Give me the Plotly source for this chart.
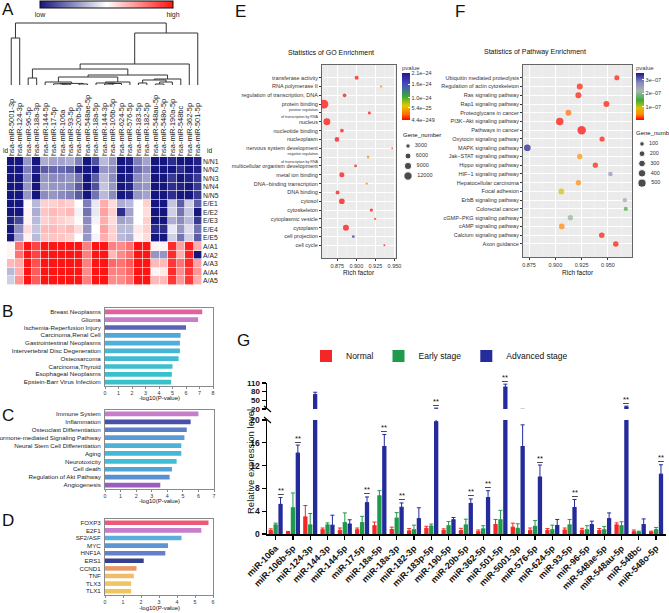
import plotly.graph_objects as go

W, H = 669, 613
def X(p): return p / W
def Y(p): return 1 - p / H

FONT = "Liberation Sans, Arial, sans-serif"

# ---------------- Panel A : heatmap ----------------
hm_cols = ["hsa-miR-5001-3p", "hsa-miR-124-3p", "hsa-miR-96-5p", "hsa-miR-18a-3p", "hsa-miR-144-5p",
           "hsa-miR-17-5p", "hsa-miR-106a", "hsa-miR-93-5p", "hsa-miR-20b-5p", "hsa-miR-548ae-5p",
           "hsa-miR-18a-5p", "hsa-miR-144-3p", "hsa-miR-106b-5p", "hsa-miR-624-5p", "hsa-miR-576-5p",
           "hsa-miR-183-5p", "hsa-miR-182-5p", "hsa-miR-548au-5p", "hsa-miR-548o-5p", "hsa-miR-190a-5p",
           "hsa-miR-548bc", "hsa-miR-362-5p", "hsa-miR-501-5p"]
hm_rows = ["N/N1", "N/N2", "N/N3", "N/N4", "N/N5", "E/E1", "E/E2", "E/E3", "E/E4", "E/E5",
           "A/A1", "A/A2", "A/A3", "A/A4", "A/A5"]
hm_vals = [
    [-1, -1, -0.45, -1, -0.35, -0.4, -0.4, -0.35, -0.55, -1, -0.75, -0.3, -0.45, -1, -0.95, -0.55, -0.4, -1, -1, -0.9, -1, -1, -0.95],
    [-1, -1, -0.55, -0.95, -0.7, -0.65, -0.65, -0.7, -0.95, -1, -1, -0.45, -0.5, -1, -1, -0.65, -0.5, -1, -1, -1, -0.9, -1, -0.95],
    [-1, -1, -0.5, -1, -0.45, -0.5, -0.5, -0.45, -0.6, -1, -0.7, -0.3, -0.5, -1, -0.95, -0.5, -0.4, -1, -1, -0.85, -1, -0.95, -0.85],
    [-1, -1, -0.45, -1, -0.4, -0.45, -0.45, -0.5, -0.7, -1, -0.75, -0.25, -0.45, -1, -0.95, -0.5, -0.45, -1, -1, -0.9, -0.95, -1, -0.85],
    [-1, -1, -0.45, -1, -0.5, -0.45, -0.5, -0.55, -0.7, -1, -0.6, -0.3, -0.5, -1, -0.95, -0.45, -0.4, -1, -1, -0.9, -1, -1, -0.85],
    [-1, -1, 0.02, -0.3, 0.2, 0.2, 0.25, 0.2, 0.0, -0.55, -0.1, 0.35, 0.15, -0.35, -0.3, 0.0, 0.2, -1, -1, -0.25, -0.7, -0.2, -0.7],
    [-1, -1, 0.05, -0.35, 0.25, 0.3, 0.25, 0.3, -0.05, -0.6, -0.1, 0.4, 0.2, -0.9, -0.4, 0.0, 0.15, -1, -1, -0.2, -0.6, -0.25, -1],
    [-0.95, -0.8, 0.05, -0.3, 0.2, 0.25, 0.2, 0.15, 0.02, -0.5, -0.05, 0.35, 0.15, -0.4, -0.35, 0.0, 0.2, -1, -1, -0.35, -0.5, -0.3, -0.85],
    [-1, -0.5, 0.15, -0.25, 0.3, 0.3, 0.25, 0.3, 0.15, -0.45, 0.0, 0.4, 0.2, -0.3, -0.3, 0.1, 0.2, -0.9, -0.9, -0.1, -0.45, -0.15, -0.6],
    [-1, -0.4, 0.05, -0.3, 0.25, 0.25, 0.25, 0.2, 0.0, -0.45, -0.05, 0.35, 0.2, -0.3, -0.35, 0.05, 0.15, -1, -1, -0.2, -0.6, -0.2, -0.7],
    [0.05, 0.6, 1, 0.8, 1, 1, 1, 1, 1, 0.55, 1, 1, 0.55, 0.5, 0.6, 1, 1, 0.05, 0.05, 0.9, 0.4, 0.95, 0.35],
    [0.05, 0.6, 1, 0.8, 1, 1, 1, 1, 1, 0.55, 1, 1, 0.3, 0.5, 0.6, 1, 1, -0.45, -0.45, 0.9, 0.35, 0.95, -1],
    [0.3, 0.35, 1, 0.75, 1, 1, 1, 1, 1, 0.55, 1, 1, 0.65, 0.6, 0.7, 1, 1, 0.3, 0.3, 0.85, 0.6, 0.9, 0.4],
    [-0.3, 0.35, 1, 0.7, 1, 1, 1, 1, 1, 0.5, 1, 1, 0.55, 0.55, 0.65, 1, 1, 0.05, 0.1, 0.9, 0.5, 0.85, 0.45],
    [-0.2, 0.45, 1, 0.7, 1, 1, 1, 1, 1, 0.55, 1, 1, 0.5, 0.5, 0.6, 1, 1, 0.3, 0.3, 0.85, 0.45, 0.85, 0.35],
]
# dendrogram merges (left child, right child, height); ids >= n_leaf are earlier merges
dendro_merges = [
    (6, 7, 0.8), (5, 23, 1.2), (8, 9, 1.0), (24, 25, 1.6), (4, 26, 3.0),
    (11, 12, 1.0), (28, 13, 1.5), (10, 29, 2.0), (30, 14, 3.0), (27, 31, 8.0),
    (15, 16, 2.0), (17, 18, 1.0), (34, 19, 3.0), (33, 35, 5.0), (36, 20, 6.0),
    (32, 37, 10.0), (2, 3, 7.0), (39, 38, 16.0), (40, 21, 21.0), (41, 22, 52.0),
    (0, 1, 47.0), (43, 42, 62.0),
]

# ---------------- Panels B, C, D ----------------
b_terms = ["Breast Neoplasms", "Glioma", "Ischemia-Reperfusion Injury", "Carcinoma,Renal Cell",
           "Gastrointestinal Neoplasms", "Intervertebral Disc Degeneration", "Osteosarcoma",
           "Carcinoma,Thyroid", "Esophageal Neoplasms", "Epstein-Barr Virus Infectiom"]
b_vals = [7.2, 6.9, 6.0, 5.6, 5.55, 5.55, 5.45, 5.0, 4.95, 4.9]
b_colors = ["#e0619b", "#c77dc9", "#5b63b8", "#4fa8d8", "#4cb0d8", "#47b5d6", "#42bad3",
            "#3bbfcf", "#38c0ce", "#36c1cc"]

c_terms = ["Immune System", "Inflammation", "Osteoclast Differentiation",
           "Hormone-mediated Signaling Pathway", "Neural Stem Cell Differentiation", "Aging",
           "Neurotoxicity", "Cell death", "Regulation of Akt Pathway", "Angiogenesis"]
c_vals = [6.0, 5.5, 5.25, 5.1, 4.9, 4.9, 4.6, 4.3, 4.15, 3.55]
c_colors = ["#c77dc9", "#4a4fa8", "#5b7fc4", "#5b9bd5", "#4fb0d8", "#45b8d8", "#42bdd6",
            "#4fa6d6", "#5a8fd0", "#9a5cc0"]

d_terms = ["FOXP3", "E2F1", "SF2/ASF", "MYC", "HNF1A", "ERS1", "CCND1", "TNF", "TLX3", "TLX1"]
d_vals = [5.75, 5.35, 4.25, 3.5, 3.35, 2.15, 1.75, 1.6, 1.45, 1.45]
d_colors = ["#ec5a78", "#c77dc9", "#5aaede", "#5b95d3", "#6480c8", "#35418f", "#e79a66",
            "#efbd6a", "#f0c45e", "#f0c45e"]

# ---------------- Panel E : GO enrichment ----------------
go_terms = ["transferase activity", "RNA polymerase II", "regulation of transcription, DNA",
            "protein binding", "positive regulation<br>of transcription by RNA", "nucleus",
            "nucleotide binding", "nucleoplasm", "nervous system development",
            "negative regulation<br>of transcription by RNA", "multicellular organism development",
            "metal ion binding", "DNA\u2212binding transcription", "DNA binding", "cytosol",
            "cytoskeleton", "cytoplasmic vesicle", "cytoplasm", "cell projection", "cell cycle"]
go_rich = [0.9004, 0.9325, 0.8846, 0.8575, 0.9171, 0.8614, 0.8811, 0.8746, 0.947, 0.9154,
           0.899, 0.881, 0.9136, 0.8754, 0.881, 0.9197, 0.9246, 0.8864, 0.896, 0.9368]
go_genes = [2400, 700, 2000, 14000, 1200, 8300, 2000, 3500, 300, 1000,
            1000, 4000, 700, 2400, 5300, 1500, 700, 6000, 1000, 450]
go_pval = [1e-249, 4.2e-25, 5e-60, 4.4e-249, 8e-40, 1e-200, 1e-100, 1e-150, 6e-26, 4.0e-25,
           1e-30, 1e-120, 3.6e-25, 1e-90, 1e-180, 1e-50, 1.2e-25, 1e-190, 1.95e-24, 1e-35]
go_size_breaks = [3000, 6000, 9000, 12000]
go_cb_ticks = [2.1e-24, 1.6e-24, 1.0e-24, 5.4e-25, 4.4e-249]
go_cb_text = ["2.1e\u221224", "1.6e\u221224", "1.0e\u221224", "5.4e\u221225", "4.4e\u2212249"]

# ---------------- Panel F : pathway enrichment ----------------
kegg_terms = ["Ubiquitin mediated proteolysis", "Regulation of actin cytoskeleton",
              "Ras signaling pathway", "Rap1 signaling pathway", "Proteoglycans in cancer",
              "PI3K\u2212Akt signaling pathway", "Pathways in cancer", "Oxytocin signaling pathway",
              "MAPK signaling pathway", "Jak\u2212STAT signaling pathway", "Hippo signaling pathway",
              "HIF\u22121 signaling pathway", "Hepatocellular carcinoma", "Focal adhesion",
              "ErbB signaling pathway", "Colorectal cancer", "cGMP\u2212PKG signaling pathway",
              "cAMP signaling pathway", "Calcium signaling pathway", "Axon guidance"]
kegg_rich = [0.9584, 0.9232, 0.9219, 0.9485, 0.9124, 0.9042, 0.925, 0.9444, 0.8734, 0.9232,
             0.938, 0.9523, 0.9219, 0.9057, 0.966, 0.9669, 0.9143, 0.9061, 0.9441, 0.9574]
kegg_genes = [140, 230, 220, 210, 200, 400, 540, 150, 300, 160,
              150, 100, 160, 200, 85, 80, 160, 190, 180, 180]
kegg_pval = [5e-09, 8e-09, 6e-09, 4e-09, 3.2e-08, 3e-09, 1e-09, 6e-09, 3.5e-07, 4.5e-08,
             7e-09, 2.7e-07, 4.2e-08, 9.5e-08, 2.45e-07, 1.5e-07, 2.0e-07, 4e-08, 5e-09, 5e-09]
kegg_size_breaks = [100, 200, 300, 400, 500]
kegg_cb_ticks = [3e-07, 2e-07, 1e-07]
kegg_cb_text = ["3e\u221207", "2e\u221207", "1e\u221207"]

# ---------------- Panel G : qPCR bars ----------------
g_cats = ["miR-106a", "miR-106b-5p", "miR-124-3p", "miR-144-3p", "miR-144-5p", "miR-17-5p",
          "miR-18a-5p", "miR-18a-3p", "miR-182-3p", "miR-183p-5p", "miR-190-5p", "miR-20b-5p",
          "miR-362-5p", "miR-501-5p", "miR-5001-3p", "miR-576-5p", "miR-624-5p", "miR-93-5p",
          "miR-96-5p", "miR-548ae-5p", "miR-548au-5p", "miR-548bc", "miR-548o-5p"]
g_normal = [0.6, 0.35, 3.0, 0.75, 0.65, 0.75, 1.45, 0.8, 0.55, 1.0, 0.6, 0.6, 0.4, 1.65, 1.2,
            0.65, 0.65, 0.7, 0.65, 0.6, 1.6, 0.4, 0.35]
g_normal_err = [0.3, 0.1, 2.0, 0.3, 0.4, 0.3, 0.65, 0.4, 0.4, 0.35, 0.3, 0.4, 0.3, 0.9, 0.7,
                0.4, 0.3, 0.35, 0.35, 0.35, 0.35, 0.3, 0.15]
g_early = [1.6, 4.6, 1.6, 1.6, 2.0, 2.0, 6.7, 2.8, 0.75, 1.4, 1.45, 1.6, 0.9, 2.5, 1.0,
           1.35, 0.75, 1.6, 0.75, 0.75, 1.45, 0.35, 0.75]
g_early_err = [0.3, 2.6, 2.0, 0.35, 1.7, 1.1, 0.9, 0.95, 0.8, 0.35, 0.75, 1.0, 0.55, 1.65, 0.8,
               1.0, 0.8, 0.95, 0.7, 0.55, 0.7, 0.15, 0.4]
g_adv = [5.2, 14.2, 70, 1.55, 1.75, 5.5, 15.35, 4.7, 2.7, 19.7, 2.5, 5.35, 6.4, 96, 15.35,
         10.0, 1.5, 4.65, 1.65, 2.7, 27, 1.65, 10.5]
g_adv_err = [1.2, 1.4, 8, 1.75, 0.75, 1.0, 2.1, 0.75, 1.9, 3.5, 0.4, 0.8, 1.2, 10, 3.8,
             2.1, 1.05, 1.4, 0.6, 1.0, 3, 1.0, 1.65]
g_sig = [1, 1, 0, 0, 0, 1, 1, 1, 0, 1, 0, 1, 1, 1, 0, 1, 0, 1, 0, 0, 1, 0, 1]
g_series = [("Normal", g_normal, g_normal_err, "#f42727"),
            ("Early stage", g_early, g_early_err, "#1f9a4c"),
            ("Advanced stage", g_adv, g_adv_err, "#242b9a")]
g_lower_ticks = [0, 4, 8, 12, 16, 20]
g_upper_ticks = [20, 50, 80, 110]

# =====================================================================
fig = go.Figure()
annotations = []
shapes = []

# ---- A heatmap
fig.add_trace(go.Heatmap(
    z=hm_vals, x=hm_cols, y=hm_rows, xaxis="x", yaxis="y",
    colorscale=[[0, "#16167f"], [0.5, "#ffffff"], [1, "#ff1414"]], zmin=-1, zmax=1,
    xgap=0.6, ygap=0.6,
    colorbar=dict(orientation="h", x=X(106.5), xanchor="center", y=Y(1), yanchor="top",
                  lenmode="pixels", len=133, thickness=7, xpad=0, ypad=0,
                  tickvals=[-1, 1], ticktext=["low", "high"], ticks="",
                  tickfont=dict(size=7, family=FONT, color="#222"),
                  outlinewidth=1, outlinecolor="#111"),
    showlegend=False, hoverinfo="skip"))

# ---- A dendrogram
n_leaf = len(hm_cols)
node_x = {i: float(i) for i in range(n_leaf)}
node_h = {i: 0.0 for i in range(n_leaf)}
dx, dy = [], []
for k, (a, b, h) in enumerate(dendro_merges):
    xa, xb = node_x[a], node_x[b]
    dx += [xa, xa, xb, xb, None]
    dy += [node_h[a], h, h, node_h[b], None]
    node_x[n_leaf + k] = (xa + xb) / 2
    node_h[n_leaf + k] = h
fig.add_trace(go.Scatter(x=dx, y=dy, mode="lines", xaxis="x2", yaxis="y2",
                         line=dict(color="#333", width=1), showlegend=False, hoverinfo="skip"))

# ---- B, C, D bars
for terms, vals, cols, ax in [(b_terms, b_vals, b_colors, "3"), (c_terms, c_vals, c_colors, "4"),
                              (d_terms, d_vals, d_colors, "5")]:
    fig.add_trace(go.Bar(x=vals, y=terms, orientation="h", marker=dict(color=cols, line_width=0),
                         width=0.6, xaxis="x" + ax, yaxis="y" + ax, showlegend=False, hoverinfo="skip"))

# ---- E, F scatter
def go_size(n):
    return 0.5 + 7.8 * (n / 12000) ** 0.5

def kegg_size(n):
    return 1.6 + 6.6 * (n / 500) ** 0.5

go_scale = [[0, "#ff0000"], [0.12, "#ff6a00"], [0.3, "#e8c800"], [0.5, "#3aa83a"],
            [0.75, "#4a4ac8"], [1, "#22188a"]]
kegg_scale = [[0, "#ff0000"], [0.12, "#ff8a00"], [0.26, "#d8c400"], [0.42, "#3aaa3a"],
              [0.62, "#a8b8b0"], [0.8, "#8a86c0"], [1, "#1a1a88"]]

fig.add_trace(go.Scatter(
    x=go_rich, y=go_terms, mode="markers", xaxis="x6", yaxis="y6",
    marker=dict(size=[go_size(n) for n in go_genes], color=go_pval, colorscale=go_scale,
                cmin=4.4e-249, cmax=2.1e-24, line_width=0,
                colorbar=dict(x=X(402), xanchor="left", y=Y(62), yanchor="top",
                              lenmode="pixels", len=58, thickness=8, xpad=0, ypad=0,
                              title=dict(text="pvalue", side="top", font=dict(size=6, family=FONT)),
                              tickvals=go_cb_ticks, ticktext=go_cb_text, ticks="inside",
                              ticklen=2, tickcolor="white",
                              tickfont=dict(size=5.5, family=FONT, color="#333"), outlinewidth=0)),
    showlegend=False, hoverinfo="skip"))

fig.add_trace(go.Scatter(
    x=kegg_rich, y=kegg_terms, mode="markers", xaxis="x7", yaxis="y7",
    marker=dict(size=[kegg_size(n) for n in kegg_genes], color=kegg_pval, colorscale=kegg_scale,
                cmin=0, cmax=3.5e-07, line_width=0,
                colorbar=dict(x=X(636), xanchor="left", y=Y(62), yanchor="top",
                              lenmode="pixels", len=58, thickness=8, xpad=0, ypad=0,
                              title=dict(text="pvalue", side="top", font=dict(size=6, family=FONT)),
                              tickvals=kegg_cb_ticks, ticktext=kegg_cb_text, ticks="inside",
                              ticklen=2, tickcolor="white",
                              tickfont=dict(size=5.5, family=FONT, color="#333"), outlinewidth=0)),
    showlegend=False, hoverinfo="skip"))

# size legends (drawn on their own small axes)
fig.add_trace(go.Scatter(
    x=[0] * len(go_size_breaks), y=list(range(len(go_size_breaks))), mode="markers+text",
    text=["  " + str(v) for v in go_size_breaks], textposition="middle right",
    textfont=dict(size=5.5, family=FONT, color="#333"), cliponaxis=False,
    marker=dict(size=[go_size(v) for v in go_size_breaks], color="black"),
    xaxis="x10", yaxis="y10", showlegend=False, hoverinfo="skip"))
fig.add_trace(go.Scatter(
    x=[0] * len(kegg_size_breaks), y=list(range(len(kegg_size_breaks))), mode="markers+text",
    text=["  " + str(v) for v in kegg_size_breaks], textposition="middle right",
    textfont=dict(size=5.5, family=FONT, color="#333"), cliponaxis=False,
    marker=dict(size=[kegg_size(v) for v in kegg_size_breaks], color="black"),
    xaxis="x11", yaxis="y11", showlegend=False, hoverinfo="skip"))

# ---- G bars (lower and upper segment of broken axis)
for name, vals, errs, col in g_series:
    for yax, show in [("y8", True), ("y9", False)]:
        fig.add_trace(go.Bar(
            x=g_cats, y=vals, name=name, marker=dict(color=col, line_width=0),
            error_y=dict(type="data", array=errs, arrayminus=[0] * len(errs), symmetric=False,
                         color=col, thickness=1, width=2),
            xaxis="x8", yaxis=yax, showlegend=show, legendgroup=name, hoverinfo="skip"))

# significance marks
bargap = 0.15
cat_px = (666 - 267) / len(g_cats)
adv_shift = (1 - bargap) / 3 * cat_px
for i, s in enumerate(g_sig):
    if not s:
        continue
    top = g_adv[i] + g_adv_err[i]
    annotations.append(dict(x=g_cats[i], y=top, xref="x8", yref="y8" if top <= 20 else "y9",
                            text="<u>**</u>", showarrow=False, xshift=adv_shift, yshift=7,
                            xanchor="center", yanchor="middle",
                            font=dict(size=7.5, family=FONT, color="#111")))

# ---- text annotations
def ann(x, y, text, size, xanchor="center", yanchor="middle", **kw):
    d = dict(x=X(x), y=Y(y), xref="paper", yref="paper", text=text, showarrow=False,
             xanchor=xanchor, yanchor=yanchor,
             font=dict(size=size, family=FONT, color=kw.pop("color", "#111")))
    d.update(kw)
    annotations.append(d)

ann(0, 9, "A", 17, xanchor="left")
ann(0, 311, "B", 17, xanchor="left")
ann(0, 415, "C", 17, xanchor="left")
ann(0, 520, "D", 17, xanchor="left")
ann(233, 12, "E", 17, xanchor="left")
ann(453, 12, "F", 17, xanchor="left")
ann(235, 340, "G", 17, xanchor="left")
ann(1, 150, "id", 6.5, xanchor="left")
ann(205, 150, "id", 6.5, xanchor="left")
ann(331, 52, "Statistics of GO Enrichment", 7)
ann(535, 52, "Statistics of Pathway Enrichment", 7)
ann(359, 272, "Rich factor", 6.5)
ann(578, 272, "Rich factor", 6.5)
ann(401, 135, "Gene_number", 6, xanchor="left")
ann(634, 133, "Gene_number", 6, xanchor="left")
ann(159, 403, "-log10(P-value)", 6, yanchor="bottom")
ann(159, 506, "-log10(P-value)", 6, yanchor="bottom")
ann(159, 613, "-log10(P-value)", 6, yanchor="bottom")
ann(250, 462, "Relative expression level", 9.5, textangle=-90)

# axis break marks
for yb in (409, 420):
    shapes.append(dict(type="line", xref="paper", yref="paper", x0=X(264), x1=X(271),
                       y0=Y(yb - 3), y1=Y(yb + 3), line=dict(color="black", width=1.2)))

# grey panel backgrounds for E and F
for (x0, x1, y0, y1) in [(322, 396, 65, 258), (523, 632, 65, 257)]:
    shapes.append(dict(type="rect", xref="paper", yref="paper", x0=X(x0), x1=X(x1), y0=Y(y1),
                       y1=Y(y0), fillcolor="#ebebeb", line_width=0, layer="below"))

# ---- axes
def small_bar_x(rng, dtick):
    return dict(range=rng, dtick=dtick, showline=True, mirror=True, linecolor="#8a8a8a",
                linewidth=1, ticks="outside", ticklen=1.5, tickcolor="#8a8a8a",
                tickfont=dict(size=5.3, family=FONT, color="#333"), showgrid=False, zeroline=False,
                fixedrange=True)

def small_bar_y(terms):
    return dict(type="category", categoryorder="array", categoryarray=terms, tickmode="array",
                tickvals=terms, autorange="reversed", showline=True, mirror=True,
                linecolor="#8a8a8a", linewidth=1, ticks="",
                tickfont=dict(size=6.2, family=FONT, color="#222"),
                showgrid=False, zeroline=False, ticklabelstandoff=2)

def enrich_x(rng, dom):
    return dict(domain=dom, range=rng, tickvals=[0.875, 0.9, 0.925, 0.95],
                ticktext=["0.875", "0.900", "0.925", "0.950"], showgrid=True, gridcolor="white",
                gridwidth=1, minor=dict(dtick=0.0125, showgrid=True, gridcolor="#f6f6f6", gridwidth=0.5),
                showline=True, mirror=True, linecolor="#666", linewidth=1, ticks="outside",
                ticklen=2, tickcolor="#333", tickfont=dict(size=5.5, family=FONT, color="#333"),
                zeroline=False)

def enrich_y(terms, fsize, ticktext=None):
    return dict(type="category", categoryorder="array", categoryarray=terms, autorange="reversed",
                tickmode="array", tickvals=terms, ticktext=ticktext or terms,
                showgrid=True, gridcolor="white", gridwidth=1, showline=True, mirror=True,
                linecolor="#666", linewidth=1, ticks="outside", ticklen=2, tickcolor="#333",
                tickfont=dict(size=fsize, family=FONT, color="#333"), zeroline=False)

go_ticktext = [t if "<br>" not in t else "<span style='font-size:3.6px'>" + t + "</span>"
               for t in go_terms]

hidden = dict(visible=False, fixedrange=True)

fig.update_layout(
    width=W, height=H, margin=dict(l=0, r=0, t=0, b=0, pad=0, autoexpand=False),
    paper_bgcolor="white", plot_bgcolor="white", font=dict(family=FONT),
    barmode="group", bargap=bargap, bargroupgap=0.12,
    # A heatmap
    xaxis=dict(domain=[X(7), X(202)], side="top", tickangle=-90, ticks="", tickmode="array",
               tickvals=hm_cols, tickfont=dict(size=7.4, family=FONT, color="#222"),
               showgrid=False, zeroline=False, anchor="y"),
    yaxis=dict(domain=[Y(285), Y(157)], side="right", autorange="reversed", ticks="",
               tickmode="array", tickvals=hm_rows,
               tickfont=dict(size=6.8, family=FONT, color="#222"), showgrid=False, zeroline=False,
               anchor="x"),
    # dendrogram
    xaxis2=dict(domain=[X(7), X(202)], range=[-0.5, len(hm_cols) - 0.5], anchor="y2", **hidden),
    yaxis2=dict(domain=[Y(85), Y(20)], range=[0, 65], anchor="x2", **hidden),
    # B, C, D
    xaxis3=dict(domain=[X(105), X(213)], anchor="y3", **small_bar_x([0, 8], 1)),
    yaxis3=dict(domain=[Y(386), Y(308)], anchor="x3", **small_bar_y(b_terms)),
    xaxis4=dict(domain=[X(105), X(214)], anchor="y4", **small_bar_x([0, 7], 1)),
    yaxis4=dict(domain=[Y(489), Y(410)], anchor="x4", **small_bar_y(c_terms)),
    xaxis5=dict(domain=[X(105), X(213)], anchor="y5", **small_bar_x([0, 6], 1)),
    yaxis5=dict(domain=[Y(595), Y(519)], anchor="x5", **small_bar_y(d_terms)),
    # E, F
    xaxis6=dict(anchor="y6", **enrich_x([0.855, 0.952], [X(322), X(396)])),
    yaxis6=dict(domain=[Y(258), Y(65)], anchor="x6", **enrich_y(go_terms, 5.5, go_ticktext)),
    xaxis7=dict(anchor="y7", **enrich_x([0.8693, 0.9728], [X(523), X(632)])),
    yaxis7=dict(domain=[Y(257), Y(65)], anchor="x7", **enrich_y(kegg_terms, 5.5)),
    # G
    xaxis8=dict(domain=[X(267), X(666)], anchor="y8", type="category", categoryorder="array",
                categoryarray=g_cats, tickmode="array", tickvals=g_cats, tickangle=-45,
                showline=True, linecolor="black", linewidth=1.5,
                ticks="outside", ticklen=4, tickwidth=1.2, tickcolor="black",
                tickfont=dict(size=9, family=FONT, color="#111", weight="bold"),
                showgrid=False, zeroline=False),
    yaxis8=dict(domain=[Y(534), Y(420)], anchor="x8", range=[0, 20], tickvals=g_lower_ticks,
                showline=True, linecolor="black", linewidth=1.5, ticks="outside", ticklen=4,
                tickwidth=1.2, tickcolor="black",
                tickfont=dict(size=8.5, family=FONT, color="#111", weight="bold"),
                showgrid=False, zeroline=False),
    yaxis9=dict(domain=[Y(409), Y(383)], anchor="x8", range=[20, 110], tickvals=g_upper_ticks,
                showline=True, linecolor="black", linewidth=1.5, ticks="outside", ticklen=4,
                tickwidth=1.2, tickcolor="black",
                tickfont=dict(size=8, family=FONT, color="#111", weight="bold"),
                showgrid=False, zeroline=False),
    # size legends
    xaxis10=dict(domain=[X(403), X(413)], range=[-1, 1], anchor="y10", **hidden),
    yaxis10=dict(domain=[Y(181), Y(141)], range=[len(go_size_breaks) - 0.5, -0.5], anchor="x10", **hidden),
    xaxis11=dict(domain=[X(637), X(647)], range=[-1, 1], anchor="y11", **hidden),
    yaxis11=dict(domain=[Y(188), Y(139)], range=[len(kegg_size_breaks) - 0.5, -0.5], anchor="x11", **hidden),
    legend=dict(orientation="h", x=X(306), y=Y(356), xanchor="left", yanchor="middle",
                font=dict(size=8.5, family=FONT, color="#111"), bgcolor="rgba(0,0,0,0)",
                itemwidth=30, traceorder="normal"),
    annotations=annotations, shapes=shapes,
)

fig.write_html("out.html", config={"displayModeBar": False, "staticPlot": True},
               post_script="document.body.style.margin='0';document.body.style.overflow='hidden';")
